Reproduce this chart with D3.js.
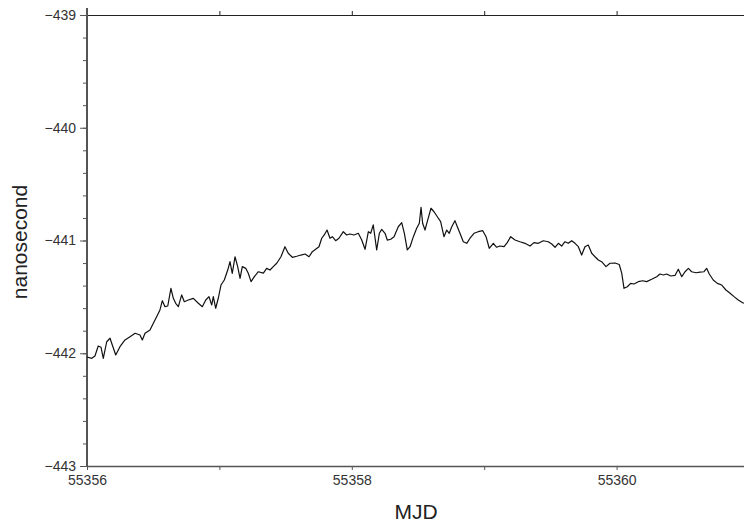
<!DOCTYPE html>
<html>
<head>
<meta charset="utf-8">
<script src="https://cdn.jsdelivr.net/npm/d3@7"></script>
<style>
  body { margin: 0; background: #fff; }
  svg { display: block; font-family: "Liberation Sans", Arial, sans-serif; }
</style>
</head>
<body>
<svg></svg>
<script>
// days after MJD 55356
const mjdOffset = [
  0.000, 0.036, 0.060, 0.085, 0.106, 0.123, 0.149, 0.174, 0.191, 0.217,
  0.249, 0.287, 0.325, 0.363, 0.400, 0.418, 0.438, 0.476, 0.501, 0.526,
  0.551, 0.569, 0.589, 0.610, 0.634, 0.652, 0.670, 0.690, 0.715, 0.735,
  0.765, 0.803, 0.841, 0.871, 0.897, 0.921, 0.942, 0.954, 0.972, 0.992,
  1.012, 1.037, 1.063, 1.080, 1.097, 1.118, 1.138, 1.156, 1.173, 1.199,
  1.218, 1.239, 1.264, 1.294, 1.332, 1.357, 1.382, 1.407, 1.433, 1.465,
  1.495, 1.520, 1.551, 1.584, 1.616, 1.647, 1.677, 1.702, 1.727, 1.752,
  1.773, 1.792, 1.813, 1.835, 1.853, 1.878, 1.903, 1.936, 1.961, 1.986,
  2.017, 2.049, 2.075, 2.100, 2.125, 2.143, 2.162, 2.188, 2.208, 2.226,
  2.251, 2.268, 2.294, 2.319, 2.351, 2.377, 2.397, 2.419, 2.440, 2.465,
  2.490, 2.510, 2.523, 2.535, 2.553, 2.570, 2.598, 2.621, 2.646, 2.671,
  2.696, 2.717, 2.736, 2.755, 2.779, 2.797, 2.817, 2.842, 2.868, 2.893,
  2.923, 2.955, 2.989, 3.014, 3.038, 3.069, 3.094, 3.119, 3.150, 3.174,
  3.200, 3.233, 3.270, 3.308, 3.346, 3.376, 3.409, 3.446, 3.484, 3.510,
  3.535, 3.560, 3.585, 3.610, 3.635, 3.661, 3.686, 3.711, 3.736, 3.761,
  3.786, 3.812, 3.837, 3.862, 3.887, 3.920, 3.950, 3.988, 4.020, 4.039,
  4.056, 4.081, 4.106, 4.131, 4.164, 4.197, 4.227, 4.265, 4.303, 4.328,
  4.353, 4.378, 4.409, 4.441, 4.466, 4.492, 4.517, 4.542, 4.567, 4.600,
  4.630, 4.660, 4.680, 4.700, 4.730, 4.761, 4.794, 4.826, 4.857, 4.887,
  4.919, 4.952, 4.977
];

const nanosecond = [
  -442.033, -442.045, -442.024, -441.936, -441.947, -442.045, -441.898, -441.867, -441.927, -442.015,
  -441.942, -441.882, -441.853, -441.823, -441.838, -441.882, -441.823, -441.794, -441.734, -441.676,
  -441.616, -441.534, -441.587, -441.581, -441.424, -441.513, -441.557, -441.587, -441.483, -441.543,
  -441.528, -441.513, -441.557, -441.587, -441.528, -441.498, -441.572, -441.498, -441.601, -441.510,
  -441.395, -441.350, -441.262, -441.188, -441.291, -441.144, -441.232, -441.335, -441.232, -441.247,
  -441.291, -441.365, -441.321, -441.277, -441.290, -441.247, -441.262, -441.232, -441.202, -441.144,
  -441.055, -441.113, -441.149, -441.140, -441.129, -441.120, -441.144, -441.099, -441.078, -441.055,
  -440.980, -440.951, -440.907, -440.980, -440.966, -441.002, -440.980, -440.922, -440.951, -440.942,
  -440.951, -440.936, -440.996, -441.078, -440.922, -440.936, -440.862, -441.084, -440.936, -440.901,
  -440.936, -440.996, -440.989, -440.966, -440.878, -440.842, -440.936, -441.084, -441.055, -440.966,
  -440.892, -440.847, -440.706, -440.847, -440.907, -440.833, -440.714, -440.745, -440.789, -440.833,
  -440.966, -440.907, -440.936, -440.878, -440.824, -440.878, -440.936, -441.011, -441.025, -440.980,
  -440.936, -440.922, -440.913, -440.966, -441.069, -441.025, -441.060, -441.049, -441.055, -441.019,
  -440.966, -440.996, -441.011, -441.025, -441.049, -441.019, -441.025, -441.002, -441.011, -441.031,
  -441.060, -441.025, -441.049, -441.011, -441.025, -441.002, -441.025, -441.055, -441.129, -441.055,
  -441.040, -441.113, -441.144, -441.173, -441.188, -441.232, -441.202, -441.200, -441.213, -441.291,
  -441.424, -441.410, -441.380, -441.386, -441.365, -441.357, -441.365, -441.344, -441.321, -441.297,
  -441.306, -441.297, -441.315, -441.310, -441.255, -441.321, -441.277, -441.247, -441.277, -441.286,
  -441.280, -441.277, -441.247, -441.297, -441.350, -441.380, -441.395, -441.439, -441.468, -441.498,
  -441.528, -441.552, -441.560
];

const xLabelTicks = [55356, 55358, 55360];
const yMajorTicks = [-443, -442, -441, -440, -439];

const data = mjdOffset.map(function(d, i) { return { mjd: 55356 + d, ns: nanosecond[i] }; });

const svg = d3.select('svg')
    .attr("width", 744)
    .attr("height", 525);

const xScale = d3.scaleLinear()
    .domain([55356, 55361])
    .range([87, 749]);

const yScale = d3.scaleLinear()
    .domain([-443, -439])
    .range([466, 15]);

const axisColor = "#555";

// bottom axis: ticks every day, labels every 2 days
const xAxis = svg.append('g')
    .attr('transform', 'translate(0, 466)')
    .call(d3.axisBottom(xScale)
      .tickValues(d3.range(55356, 55362, 1))
      .tickSize(4)
      .tickSizeOuter(0)
      .tickPadding(5)
      .tickFormat(function(d) { return xLabelTicks.indexOf(d) >= 0 ? d : ""; }));
xAxis.select('.domain').attr('stroke', axisColor).attr('stroke-width', 1.5);
xAxis.selectAll('.tick line').attr('stroke', axisColor);
xAxis.selectAll('text')
    .attr('font-size', 14)
    .attr('fill', '#333')
    .attr('font-family', '"Liberation Sans", Arial, sans-serif');

// top axis: ticks only
const topAxis = svg.append('g')
    .attr('transform', 'translate(0, 15)')
    .call(d3.axisTop(xScale)
      .tickValues(d3.range(55356, 55362, 1))
      .tickSize(4)
      .tickSizeOuter(0)
      .tickFormat(""));
topAxis.select('.domain').attr('stroke', '#222');
topAxis.selectAll('.tick line').attr('stroke', '#222');

// left axis: minor ticks every 0.2, labels on whole ns
const yMinor = svg.append('g')
    .attr('transform', 'translate(87, 0)')
    .call(d3.axisLeft(yScale)
      .tickValues(d3.range(-443, -438.99, 0.2))
      .tickSize(4)
      .tickSizeOuter(0)
      .tickFormat(""));
yMinor.select('.domain').remove();
yMinor.selectAll('.tick line').attr('stroke', axisColor);

const yAxis = svg.append('g')
    .attr('transform', 'translate(87, 0)')
    .call(d3.axisLeft(yScale)
      .tickValues(yMajorTicks)
      .tickSize(7)
      .tickSizeOuter(0)
      .tickPadding(4)
      .tickFormat(d3.format("d")));
yAxis.select('.domain')
    .attr('d', 'M0,8V466')
    .attr('stroke', axisColor)
    .attr('stroke-width', 2);
yAxis.selectAll('.tick line').attr('stroke', axisColor);
yAxis.selectAll('text')
    .attr('font-size', 14)
    .attr('fill', '#333')
    .attr('font-family', '"Liberation Sans", Arial, sans-serif');

const line = d3.line()
    .x(function(d) { return xScale(d.mjd); })
    .y(function(d) { return yScale(d.ns); });

svg.append('path')
    .datum(data)
    .attr('fill', 'none')
    .attr('stroke', '#111')
    .attr('stroke-width', 1.2)
    .attr('stroke-linejoin', 'round')
    .attr('d', line);

svg.append('text')
    .attr('x', 416)
    .attr('y', 519)
    .attr('text-anchor', 'middle')
    .attr('font-size', 21)
    .attr('fill', '#222')
    .text('MJD');

svg.append('text')
    .attr('transform', 'translate(27, 242) rotate(-90)')
    .attr('text-anchor', 'middle')
    .attr('font-size', 21)
    .attr('fill', '#222')
    .text('nanosecond');
</script>
</body>
</html>
